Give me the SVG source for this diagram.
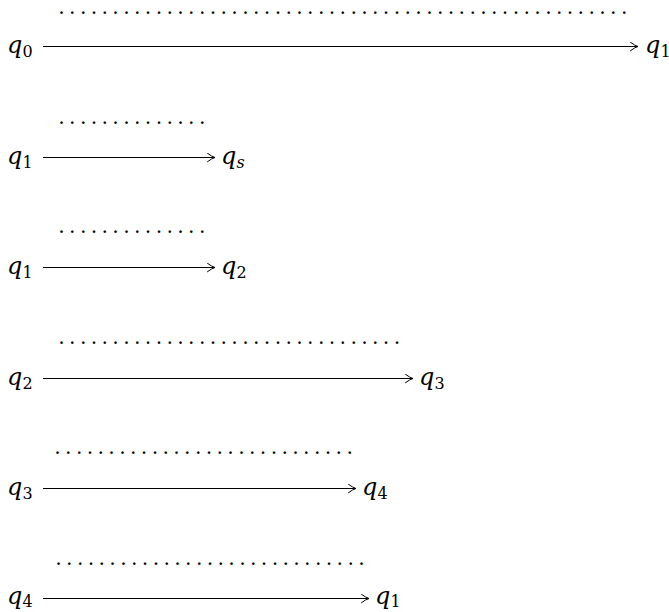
<svg xmlns="http://www.w3.org/2000/svg" width="669" height="612" viewBox="0 0 669 612">
<style>
.q{font-family:"DejaVu Serif","Liberation Serif",serif;font-style:italic;font-size:24px;fill:#000}
.s{font-style:normal;font-size:16px}
.si{font-style:italic;font-size:16px}
.d{font-family:"Liberation Serif","DejaVu Serif",serif;font-size:16px;letter-spacing:6.82px;fill:#000;font-weight:bold}
.e{stroke:#000;stroke-width:1.1;fill:none}
</style>
<defs>
<marker id="ah" markerUnits="userSpaceOnUse" viewBox="-9 -5 10 10" refX="0" refY="0" markerWidth="10" markerHeight="10" orient="auto">
<path d="M-7.5,-4.2 Q-3,-0.8 0,0 Q-3,0.8 -7.5,4.2" fill="none" stroke="#000" stroke-width="1" stroke-linecap="round"/>
</marker>
</defs>
<g id="edges">
<path class="e" d="M43,46.5 H638" marker-end="url(#ah)"/>
<path class="e" d="M43,157.5 H215" marker-end="url(#ah)"/>
<path class="e" d="M43,267.5 H215" marker-end="url(#ah)"/>
<path class="e" d="M43,378.5 H413" marker-end="url(#ah)"/>
<path class="e" d="M43,488.5 H356" marker-end="url(#ah)"/>
<path class="e" d="M43,598.5 H369" marker-end="url(#ah)"/>
</g>
<g id="labels">
<text class="d" x="59.5" y="14">.....................................................</text>
<text class="d" x="59.5" y="124">..............</text>
<text class="d" x="59.5" y="233">..............</text>
<text class="d" x="59.5" y="344">................................</text>
<text class="d" x="55.5" y="454">............................</text>
<text class="d" x="56.5" y="565">.............................</text>
</g>
<g id="n0"><text class="q" x="7" y="53">q<tspan class="s" dy="4">0</tspan></text></g>
<g id="n1"><text class="q" x="645" y="53">q<tspan class="s" dy="4">1</tspan></text></g>
<g id="n2"><text class="q" x="7" y="164">q<tspan class="s" dy="4">1</tspan></text></g>
<g id="n3"><text class="q" x="221" y="164">q<tspan class="si" dy="4">s</tspan></text></g>
<g id="n4"><text class="q" x="7" y="274">q<tspan class="s" dy="4">1</tspan></text></g>
<g id="n5"><text class="q" x="221" y="274">q<tspan class="s" dy="4">2</tspan></text></g>
<g id="n6"><text class="q" x="7" y="385">q<tspan class="s" dy="4">2</tspan></text></g>
<g id="n7"><text class="q" x="419" y="385">q<tspan class="s" dy="4">3</tspan></text></g>
<g id="n8"><text class="q" x="7" y="495">q<tspan class="s" dy="4">3</tspan></text></g>
<g id="n9"><text class="q" x="362" y="495">q<tspan class="s" dy="4">4</tspan></text></g>
<g id="n10"><text class="q" x="7" y="604">q<tspan class="s" dy="3">4</tspan></text></g>
<g id="n11"><text class="q" x="375" y="604">q<tspan class="s" dy="3">1</tspan></text></g>
</svg>
